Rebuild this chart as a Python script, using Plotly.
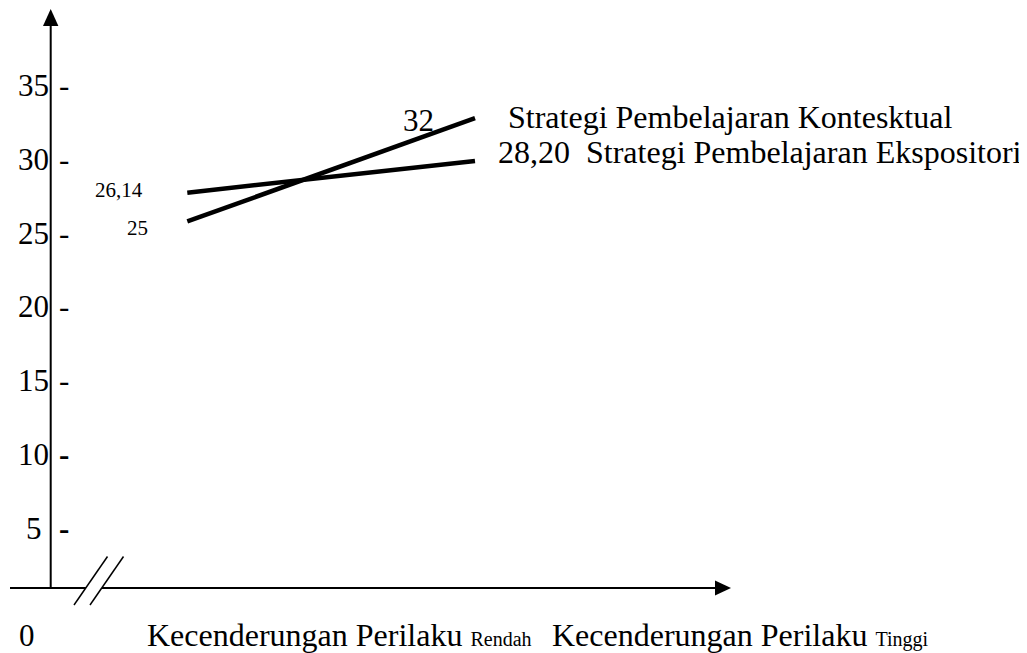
import plotly.graph_objects as go

# ---- data ----
categories = ["Rendah", "Tinggi"]
cat_pos = [0, 1]
series_names = ["Strategi Pembelajaran Kontesktual", "Strategi Pembelajaran Ekspositori"]
kontekstual = [25.8, 32.8]
ekspositori = [27.75, 29.9]
kontekstual_labels = ["25", "32"]
ekspositori_labels = ["26,14", "28,20"]
y_ticks = [5, 10, 15, 20, 25, 30, 35]
y_tick_text = ["5", "10", "15", "20", "25", "30", "35"]
x_axis_text = "Kecenderungan Perilaku"
origin_text = "0"

# page body has an 8px margin, so the figure is placed at (8, 8) in the window
OFF = 8
W, H = 1027 - OFF, 653 - OFF
FONT = "Liberation Serif, Times New Roman, serif"


def px(x):
    return (x - OFF) / W


def py(y):
    return 1 - (y - OFF) / H


fig = go.Figure()

fig.add_trace(go.Scatter(x=cat_pos, y=kontekstual, mode="lines",
                         line=dict(color="black", width=4.5), name=series_names[0],
                         showlegend=False, hoverinfo="skip"))
fig.add_trace(go.Scatter(x=cat_pos, y=ekspositori, mode="lines",
                         line=dict(color="black", width=4.5), name=series_names[1],
                         showlegend=False, hoverinfo="skip"))

# axis scales: category 0 at 187 px, category 1 at 475 px; value 0 at 601.7 px, 14.74 px / unit
x0px, xunit = 187.3, 287.7
y0px, yunit = 601.7, 14.74
fig.update_xaxes(range=[(OFF - x0px) / xunit, (OFF + W - x0px) / xunit], visible=False, fixedrange=True)
fig.update_yaxes(range=[(y0px - OFF - H) / yunit, (y0px - OFF) / yunit], visible=False, fixedrange=True)

shapes = []
# y axis line and arrow
shapes.append(dict(type="line", xref="paper", yref="paper", x0=px(50.7), x1=px(50.7),
                   y0=py(588), y1=py(25), line=dict(color="black", width=2)))
shapes.append(dict(type="path", xref="paper", yref="paper",
                   path=f"M {px(43)} {py(26)} L {px(50.7)} {py(9)} L {px(58.4)} {py(26)} Z",
                   fillcolor="black", line=dict(color="black", width=0)))
# x axis line (broken) and arrow
shapes.append(dict(type="line", xref="paper", yref="paper", x0=px(10), x1=px(86),
                   y0=py(588), y1=py(588), line=dict(color="black", width=2)))
shapes.append(dict(type="line", xref="paper", yref="paper", x0=px(102), x1=px(716),
                   y0=py(588), y1=py(588), line=dict(color="black", width=2)))
shapes.append(dict(type="path", xref="paper", yref="paper",
                   path=f"M {px(715)} {py(580.5)} L {px(731)} {py(588)} L {px(715)} {py(595.5)} Z",
                   fillcolor="black", line=dict(color="black", width=0)))
# break marks
for dx in (0, 16):
    shapes.append(dict(type="line", xref="paper", yref="paper", x0=px(74 + dx), x1=px(107.5 + dx),
                       y0=py(605), y1=py(556.5), line=dict(color="black", width=1.5)))

annotations = []
# tick labels and dashes
for v, t in zip(y_ticks, y_tick_text):
    right = 49 if len(t) > 1 else 42
    annotations.append(dict(text=t, xref="paper", yref="y", x=px(right + 2), y=v,
                            xanchor="right", yanchor="middle", showarrow=False,
                            font=dict(family=FONT, size=31, color="black")))
    dash = "<b>-</b>" if v <= 10 else "-"
    annotations.append(dict(text=dash, xref="paper", yref="y", x=px(57), y=v,
                            xanchor="left", yanchor="middle", showarrow=False,
                            font=dict(family=FONT, size=31, color="black")))

# value labels
annotations.append(dict(text=kontekstual_labels[0], xref="paper", yref="paper", x=px(137), y=py(228),
                        xanchor="center", yanchor="middle", showarrow=False,
                        font=dict(family=FONT, size=21, color="black")))
annotations.append(dict(text=ekspositori_labels[0], xref="paper", yref="paper", x=px(118.5), y=py(190),
                        xanchor="center", yanchor="middle", showarrow=False,
                        font=dict(family=FONT, size=21, color="black")))
annotations.append(dict(text=kontekstual_labels[1], xref="paper", yref="paper", x=px(418), y=py(121),
                        xanchor="center", yanchor="middle", showarrow=False,
                        font=dict(family=FONT, size=31, color="black")))
annotations.append(dict(text=series_names[0], xref="paper", yref="paper", x=px(506), y=py(117),
                        xanchor="left", yanchor="middle", showarrow=False,
                        font=dict(family=FONT, size=32, color="black")))
annotations.append(dict(text=ekspositori_labels[1] + "\u00a0\u00a0" + series_names[1],
                        xref="paper", yref="paper", x=px(496), y=py(152),
                        xanchor="left", yanchor="middle", showarrow=False,
                        font=dict(family=FONT, size=32, color="black")))

# x-axis labels
annotations.append(dict(text=origin_text, xref="paper", yref="paper", x=px(27), y=py(635),
                        xanchor="center", yanchor="middle", showarrow=False,
                        font=dict(family=FONT, size=31, color="black")))
for xl, cat in zip((145, 550), categories):
    annotations.append(dict(text=f"{x_axis_text} <span style='font-size:20px'>{cat}</span>",
                            xref="paper", yref="paper", x=px(xl), y=py(635),
                            xanchor="left", yanchor="middle", showarrow=False,
                            font=dict(family=FONT, size=32, color="black")))

fig.update_layout(width=W, height=H, autosize=False,
                  margin=dict(l=0, r=0, t=0, b=0),
                  paper_bgcolor="white", plot_bgcolor="white",
                  shapes=shapes, annotations=annotations, showlegend=False)

fig.write_html("out.html", config={"displayModeBar": False})
